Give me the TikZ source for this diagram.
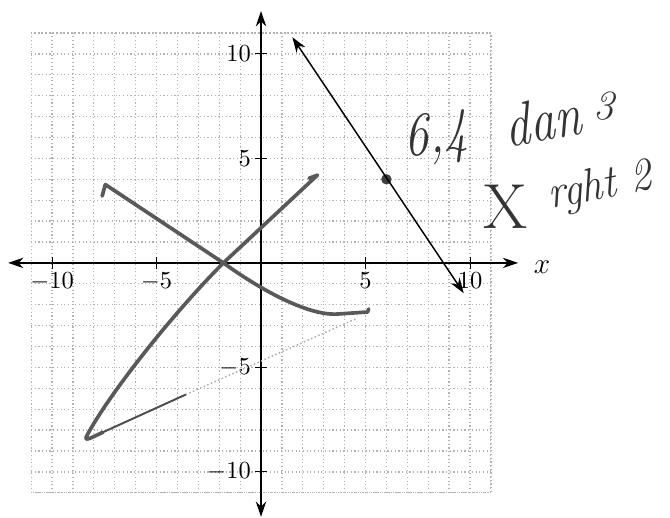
\documentclass[tikz,border=0pt]{standalone}
\usetikzlibrary{arrows.meta}
\begin{document}
\begin{tikzpicture}[x=0.3cm, y=0.3cm, >={Stealth[length=2.2mm, width=1.5mm]}]
        \tikzstyle{gridline}=[gray!60, densely dotted, line width=0.5pt]
        \tikzstyle{axis}=[<->, line width=0.5pt]
        \tikzstyle{ticklbl}=[inner sep=1pt]
        \tikzstyle{pencil}=[gray!70!black, line width=1.5pt, line cap=round, line join=round]
        \tikzstyle{faint}=[gray!65, line width=0.6pt, densely dotted]
        \tikzstyle{hand}=[text=black!80, inner sep=0pt]

        \useasboundingbox (-12.49,-12.2) rectangle (19.57,12.58);

        % grid and axes
        \draw[gridline, step={(1,1)}] (-11,-11) grid (11,11);
        \draw[gridline] (-11,-11) rectangle (11,11);

        \coordinate (xmin) at (-12.1,0);
        \coordinate (xmax) at (12.3,0);
        \coordinate (ymin) at (0,-12.15);
        \coordinate (ymax) at (0,12.05);
        \draw[axis] (xmin) -- (xmax);
        \draw[axis] (ymin) -- (ymax);
        \node[font=\large, inner sep=1pt] (xlbl) at (13.45,-0.2) {$x$};

        \foreach \t/\n in {-10/a, -5/b, 5/c, 10/d} {
            \draw (\t,0.3) -- (\t,-0.3);
            \draw (0.3,\t) -- (-0.3,\t);
            \node[ticklbl, anchor=north] (xt\n) at (\t,-0.35) {$\t$};
            \node[ticklbl, anchor=east] (yt\n) at (-0.35,\t) {$\t$};
        }

        % line through (6,4)
        \coordinate (ltop) at (1.5,10.8);
        \coordinate (lbot) at (9.7,-1.45);
        \node[circle, fill=black!75, inner sep=0pt, minimum size=1.5mm] (pt) at (6,4) {};
        \draw[<->, line width=0.6pt] (ltop) -- (lbot);

        % pencil curves
        \coordinate (hookA) at (-7.6,3.2);
        \coordinate (startA) at (-7.45,3.75);
        \coordinate (cross) at (-1.8,0);
        \coordinate (endA) at (5.1,-2.35);
        \draw[pencil] (hookA) -- (startA) -- (cross)
            .. controls (0,-1.3) and (2.2,-2.5) .. (3.6,-2.45)
            -- (endA) -- (5.15,-2.2);

        \coordinate (startB) at (2.7,4.2);
        \coordinate (vertex) at (-8.35,-8.3);
        \coordinate (turnB) at (-7.56,-8.1);
        \coordinate (midB) at (-3.6,-6.3);
        \coordinate (endB) at (4.6,-2.65);
        \draw[pencil] (2.3,4.05) -- (startB) -- (cross)
            .. controls (-4.2,-2.4) and (-7.3,-6.3) .. (vertex)
            .. controls (-8.5,-8.6) and (-8.0,-8.3) .. (turnB);
        \draw[gray!60!black, line width=0.8pt] (turnB) -- (midB);
        \draw[faint] (midB) -- (endB);

        % handwriting
        \node[hand, font=\fontsize{25}{29}\selectfont\itshape, xscale=0.8, rotate=5] (coord) at (8.4,5.95) {6,4};
        \node[hand, font=\fontsize{25}{29}\selectfont\itshape, xscale=0.8, rotate=8] (down) at (13.5,6.85) {dan};
        \node[hand, font=\fontsize{17}{20}\selectfont\itshape] (three) at (16.4,7.5) {3};
        \node[hand, font=\fontsize{26}{30}\selectfont] (xmark) at (11.7,2.7) {X};
        \node[hand, font=\fontsize{19}{22}\selectfont\itshape, xscale=0.9, rotate=10] (right) at (16.2,3.6) {rght 2};
    \end{tikzpicture}
\end{document}
